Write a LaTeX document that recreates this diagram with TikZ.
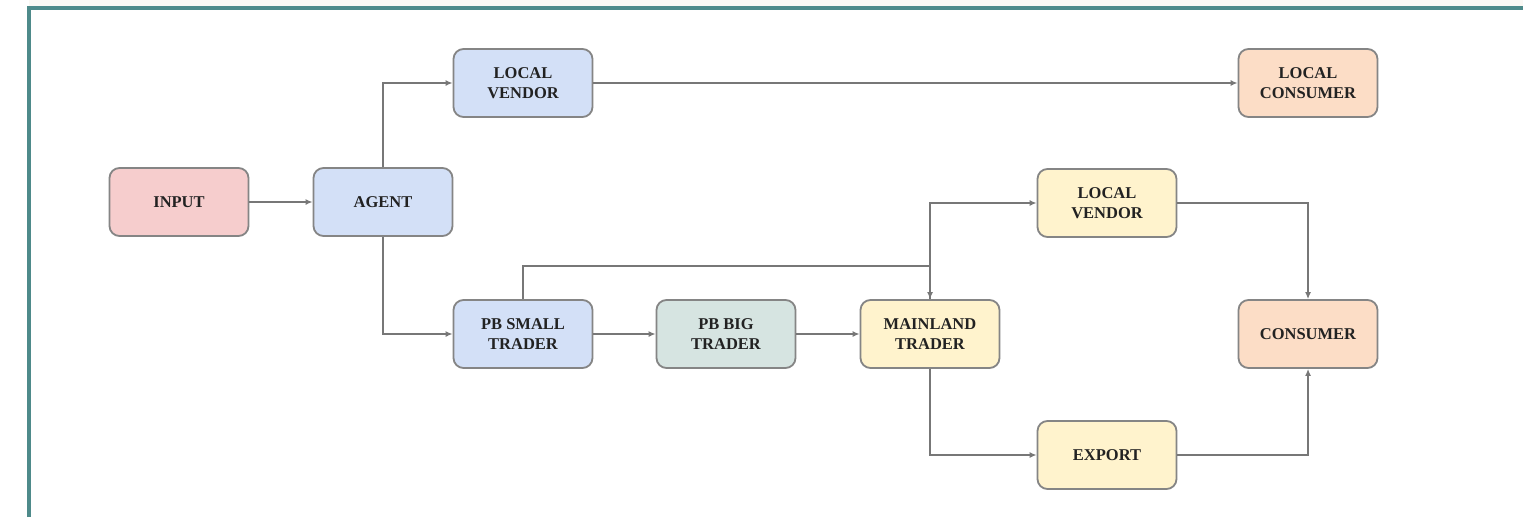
\documentclass[tikz,border=0pt]{standalone}
\usepackage{fontspec}
\setmainfont{Liberation Serif}
\usetikzlibrary{arrows.meta}
\definecolor{bordc}{HTML}{4E8A8A}
\definecolor{topstrip}{HTML}{FAF8F4}
\definecolor{linec}{HTML}{777777}
\definecolor{nodeb}{HTML}{858585}
\definecolor{fpink}{HTML}{F6CDCD}
\definecolor{fblue}{HTML}{D3E0F7}
\definecolor{fteal}{HTML}{D6E4E1}
\definecolor{fyel}{HTML}{FFF3CD}
\definecolor{fpeach}{HTML}{FCDDC6}
\definecolor{txtc}{HTML}{222222}
\tikzset{
  box/.style={draw=nodeb, line width=1.8pt, rounded corners=10pt, minimum width=139pt, minimum height=68pt, align=center, font=\fontsize{16.5}{20}\selectfont\bfseries, text=txtc, inner sep=2pt},
  conn/.style={draw=linec, line width=1.6pt, -{Latex[length=7pt,width=6pt]}},
  plain/.style={draw=linec, line width=1.6pt},
}
\begin{document}
\begin{tikzpicture}[x=1pt,y=-1pt]
\useasboundingbox (0,0) rectangle (1523,517);
\fill[white] (0,0) rectangle (1523,517);
\fill[topstrip] (29,0) rectangle (1523,6);
\draw[bordc, line width=4pt] (29,517) -- (29,8) -- (1523,8);

\node[box, fill=fpink] (input) at (179,202) {INPUT};
\node[box, fill=fblue] (agent) at (383,202) {AGENT};
\node[box, fill=fblue] (lv1) at (523,83) {LOCAL\\VENDOR};
\node[box, fill=fpeach] (lc) at (1308,83) {LOCAL\\CONSUMER};
\node[box, fill=fyel] (lv2) at (1107,203) {LOCAL\\VENDOR};
\node[box, fill=fblue] (pbs) at (523,334) {PB SMALL\\TRADER};
\node[box, fill=fteal] (pbb) at (726,334) {PB BIG\\TRADER};
\node[box, fill=fyel] (main) at (930,334) {MAINLAND\\TRADER};
\node[box, fill=fpeach] (cons) at (1308,334) {CONSUMER};
\node[box, fill=fyel] (exp) at (1107,455) {EXPORT};

\coordinate (j1) at (523,266);
\coordinate (j2) at (930,266);

\draw[conn] (input) -- (agent);
\draw[conn] (agent.north) |- (lv1.west);
\draw[conn] (agent.south) |- (pbs.west);
\draw[conn] (lv1) -- (lc);
\draw[conn] (pbs) -- (pbb);
\draw[conn] (pbb) -- (main);
\draw[plain] (pbs.north) -- (j1) -- (j2);
\draw[conn] (j2) -- (main.north);
\draw[conn] (main.north) |- (lv2.west);
\draw[conn] (main.south) |- (exp.west);
\draw[conn] (lv2.east) -| (cons.north);
\draw[conn] (exp.east) -| (cons.south);
\end{tikzpicture}
\end{document}
